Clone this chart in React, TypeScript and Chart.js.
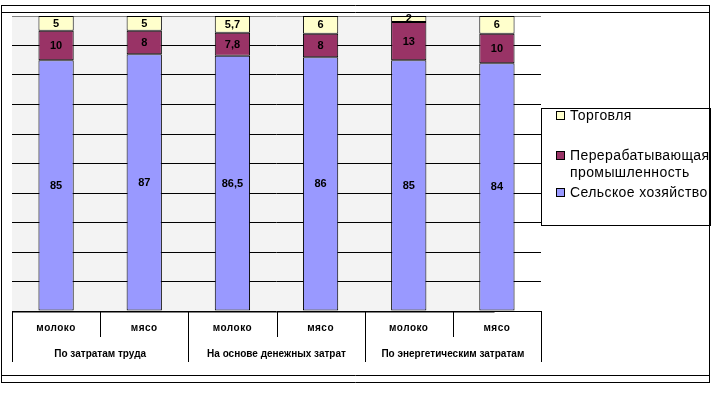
import { useEffect, useRef } from "react";
import { Chart, registerables } from "chart.js";

Chart.register(...registerables);

const subCategories = ["молоко", "мясо", "молоко", "мясо", "молоко", "мясо"];
const groupLabels = ["По затратам труда", "На основе денежных затрат", "По энергетическим затратам"];
const agriculture = [85, 87, 86.5, 86, 85, 84];
const processing = [10, 8, 7.8, 8, 13, 10];
const trade = [5, 5, 5.7, 6, 2, 6];
const seriesNames = ["Сельское хозяйство", "Перерабатывающая промышленность", "Торговля"];
const seriesColors = ["#9999ff", "#993366", "#ffffcc"];
const yMin = 0;
const yMax = 100;
const yStep = 10;

const fmt = (v: number) => String(v).replace(".", ",");

const decorPlugin = {
  id: "decor",
  beforeDraw(chart: any) {
    const { ctx, chartArea } = chart;
    const meta = chart.getDatasetMeta(0);
    const last = meta.data[meta.data.length - 1];
    const right = last ? last.x + last.width / 2 : chartArea.right;
    ctx.save();
    ctx.fillStyle = "#ffffff";
    ctx.fillRect(0, 0, chart.width, chart.height);
    ctx.fillStyle = "#f3f3f3";
    ctx.fillRect(chartArea.left, chartArea.top, right - chartArea.left, chartArea.bottom - chartArea.top);
    ctx.restore();
  },
  afterDatasetsDraw(chart: any) {
    const { ctx } = chart;
    ctx.save();
    ctx.font = "bold 11px 'Liberation Sans', Arial, sans-serif";
    ctx.fillStyle = "#000";
    ctx.textAlign = "center";
    ctx.textBaseline = "middle";
    chart.data.datasets.forEach((ds: any, di: number) => {
      const meta = chart.getDatasetMeta(di);
      meta.data.forEach((el: any, i: number) => {
        const { x, y, base } = el.getProps(["x", "y", "base"], true);
        ctx.fillText(fmt(ds.data[i]), x, (y + base) / 2 + 0.5);
      });
    });
    ctx.restore();
  },
  afterDraw(chart: any) {
    const { ctx, chartArea } = chart;
    const xs = chart.scales.x;
    const n = subCategories.length;
    const px = (i: number) => xs.getPixelForValue(i);
    const boundary = (i: number) => {
      if (i <= 0) return chartArea.left;
      if (i >= n) return chartArea.right;
      return (px(i - 1) + px(i)) / 2;
    };
    const bottom = chartArea.bottom;
    const meta = chart.getDatasetMeta(0);
    const last = meta.data[meta.data.length - 1];
    const grayRight = last ? last.x + last.width / 2 : chartArea.right;
    ctx.save();
    ctx.strokeStyle = "#808080";
    ctx.lineWidth = 1;
    ctx.beginPath();
    ctx.moveTo(chartArea.left, Math.round(bottom) + 1.5);
    ctx.lineTo(grayRight - 20, Math.round(bottom) + 1.5);
    ctx.stroke();
    ctx.strokeStyle = "#000";
    // sub dividers
    for (let i = 1; i < n; i++) {
      const bx = Math.round(boundary(i)) + 0.5;
      const isGroup = i % 2 === 0;
      ctx.beginPath();
      ctx.moveTo(bx, bottom);
      ctx.lineTo(bx, bottom + (isGroup ? 51 : 26));
      ctx.stroke();
    }
    [0, n].forEach((i) => {
      const bx = Math.round(boundary(i)) + 0.5;
      ctx.beginPath();
      ctx.moveTo(bx, bottom);
      ctx.lineTo(bx, bottom + 51);
      ctx.stroke();
    });
    // sub labels
    ctx.fillStyle = "#000";
    ctx.textAlign = "center";
    ctx.textBaseline = "middle";
    ctx.font = "bold 10px 'Liberation Sans', Arial, sans-serif";
    (ctx as any).letterSpacing = "0.5px";
    subCategories.forEach((s, i) => ctx.fillText(s, px(i), bottom + 17));
    (ctx as any).letterSpacing = "0px";
    ctx.font = "bold 10px 'Liberation Sans', Arial, sans-serif";
    groupLabels.forEach((g, gi) => {
      const cx = (boundary(gi * 2) + boundary(gi * 2 + 2)) / 2;
      ctx.fillText(g, cx, bottom + 43);
    });
    // legend
    const lx = 541.5, ly = 108.5, lw = 169, lh = 117;
    ctx.strokeRect(lx, ly, lw, lh);
    ctx.font = "14px 'Liberation Sans', Arial, sans-serif";
    (ctx as any).letterSpacing = "0.4px";
    ctx.textAlign = "left";
    const itemY = [116, 156, 193];
    const order = [2, 1, 0];
    order.forEach((di, k) => {
      const ds = chart.data.datasets[di];
      const y = itemY[k];
      ctx.fillStyle = ds.backgroundColor;
      ctx.fillRect(556.5, y - 4.5, 8, 8);
      ctx.strokeStyle = "#000";
      ctx.strokeRect(556.5, y - 4.5, 8, 8);
      ctx.fillStyle = "#000";
      const words = String(ds.label).split(" ");
      const lines: string[] = [];
      let cur = "";
      words.forEach((w) => {
        const t = cur ? cur + " " + w : w;
        if (cur && ctx.measureText(t).width > 145) {
          lines.push(cur);
          cur = w;
        } else cur = t;
      });
      if (cur) lines.push(cur);
      lines.forEach((ln, li) => ctx.fillText(ln, 570, y + li * 17));
    });
    (ctx as any).letterSpacing = "0px";
    // frame
    ctx.strokeStyle = "#000";
    const hl = (yy: number) => {
      ctx.beginPath();
      ctx.moveTo(1, yy);
      ctx.lineTo(710, yy);
      ctx.stroke();
    };
    [5.5, 12.5, 375.5, 382.5].forEach(hl);
    [1.5, 709.5].forEach((xx) => {
      ctx.beginPath();
      ctx.moveTo(xx, 5);
      ctx.lineTo(xx, 383);
      ctx.stroke();
    });
    ctx.restore();
  },
};

export default function App() {
  const ref = useRef<HTMLCanvasElement | null>(null);
  useEffect(() => {
    document.body.style.margin = "0";
    const canvas = ref.current;
    if (!canvas) return;
    const data = [agriculture, processing, trade];
    const chart = new Chart(canvas, {
      type: "bar",
      data: {
        labels: subCategories,
        datasets: seriesNames.map((name, i) => ({
          label: name,
          data: data[i],
          backgroundColor: seriesColors[i],
          borderColor: "#000000",
          borderWidth: 1,
          borderSkipped: false,
          barPercentage: 0.4,
          categoryPercentage: 1,
        })),
      },
      options: {
        responsive: false,
        animation: false,
        events: [],
        layout: { padding: { left: 12, top: 16, right: 171, bottom: 85 } },
        plugins: { legend: { display: false }, tooltip: { enabled: false } },
        scales: {
          x: { stacked: true, display: false, offset: true },
          y: {
            stacked: true,
            min: yMin,
            max: yMax,
            ticks: { display: false, stepSize: yStep },
            border: { display: false },
            grid: {
              drawTicks: false,
              color: (c: any) => (c.tick && c.tick.value === yMax ? "#808080" : "#000000"),
              lineWidth: 1,
            },
          },
        },
      },
      plugins: [decorPlugin],
    });
    return () => chart.destroy();
  }, []);
  return (
    <div style={{ width: 712, height: 396 }}>
      <canvas ref={ref} width={712} height={396} style={{ display: "block" }} />
    </div>
  );
}
